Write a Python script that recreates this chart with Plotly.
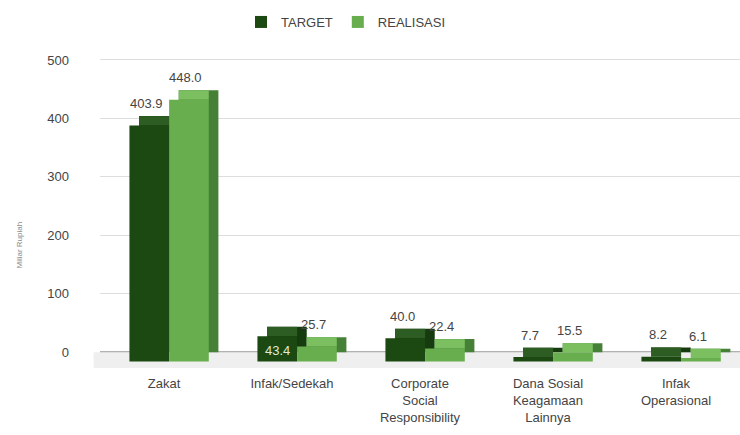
import plotly.graph_objects as go

categories = ["Zakat", "Infak/Sedekah", "Corporate<br>Social<br>Responsibility",
              "Dana Sosial<br>Keagamaan<br>Lainnya", "Infak<br>Operasional"]
target = [403.9, 43.4, 40.0, 7.7, 8.2]
realisasi = [448.0, 25.7, 22.4, 15.5, 6.1]
series_names = ["TARGET", "REALISASI"]
y_ticks = [0, 100, 200, 300, 400, 500]

# style
front_colors = ["#1c4811", "#68ae4e"]
top_colors = ["#2e5d24", "#7bbf61"]
side_colors = ["#163b0e", "#467f36"]
offsets = [-0.27, 0.04]
width = 0.31
dx = 0.075   # depth, category units
dy = 16      # depth, value units
label_inside = [[False, True, False, False, False], [False] * 5]
px_per_cat = 128

fig = go.Figure()
for i, (name, vals) in enumerate(zip(series_names, [target, realisasi])):
    n = len(vals)
    # side face (back box)
    fig.add_trace(go.Bar(
        x=categories, y=vals, base=[0] * n,
        offset=offsets[i] + dx, width=width,
        marker=dict(color=side_colors[i], line=dict(width=0)),
        showlegend=False, hoverinfo="skip"))
    # top face
    fig.add_trace(go.Bar(
        x=categories, y=[dy] * n, base=[v - dy for v in vals],
        offset=offsets[i] + dx, width=width - dx,
        marker=dict(color=top_colors[i], line=dict(width=0)),
        showlegend=False, hoverinfo="skip"))
    # front face
    fig.add_trace(go.Bar(
        x=categories, y=vals, base=[-dy] * n, name=name,
        offset=offsets[i], width=width,
        marker=dict(color=front_colors[i], line=dict(width=0)),
        hovertemplate="%{x}: %{y}<extra>" + name + "</extra>"))

annotations = []
for i, vals in enumerate([target, realisasi]):
    for j, (c, v) in enumerate(zip(categories, vals)):
        inside = label_inside[i][j]
        annotations.append(dict(
            x=c, y=-dy if inside else v, xref="x", yref="y",
            text=f"{v:.1f}", showarrow=False,
            yanchor="bottom", xanchor="center",
            xshift=(offsets[i] + width / 2) * px_per_cat - (0 if inside else 3),
            yshift=2 if inside else 3,
            font=dict(size=13, color="#dfead6" if inside else "#444444")))

annotations.append(dict(
    x=(12 - 100) / 640, y=(368 - 245) / 318, xref="paper", yref="paper",
    text="Miliar Rupiah", textangle=-90, showarrow=False,
    font=dict(size=8, color="#8a8a8a")))

fig.update_layout(
    width=740, height=435,
    margin=dict(l=100, r=0, t=50, b=67),
    paper_bgcolor="white", plot_bgcolor="white",
    barmode="overlay",
    font=dict(family="Liberation Sans, Arial, sans-serif", size=12, color="#444444"),
    legend=dict(orientation="h", xref="container", yref="container",
                x=346 / 740, xanchor="center", y=1 - 22 / 435, yanchor="middle",
                font=dict(size=13, color="#444444")),
    annotations=annotations,
    shapes=[dict(type="rect", xref="paper", yref="y", x0=-0.01, x1=1, y0=-27, y1=0,
                 fillcolor="#efefef", line=dict(width=0), layer="below"),
            dict(type="line", xref="paper", yref="y", x0=0, x1=1, y0=0, y1=0,
                 line=dict(color="#666666", width=1.5), layer="below")],
    xaxis=dict(showgrid=False, tickfont=dict(size=13, color="#444444"),
               showline=False, ticks="", ticklabelstandoff=6),
    yaxis=dict(range=[-27, 517], tickvals=y_ticks, showgrid=True,
               gridcolor="#dddddd", zeroline=False,
               tickfont=dict(size=13, color="#444444"),
               ticklabelstandoff=30),
)
fig.write_html("out.html")
